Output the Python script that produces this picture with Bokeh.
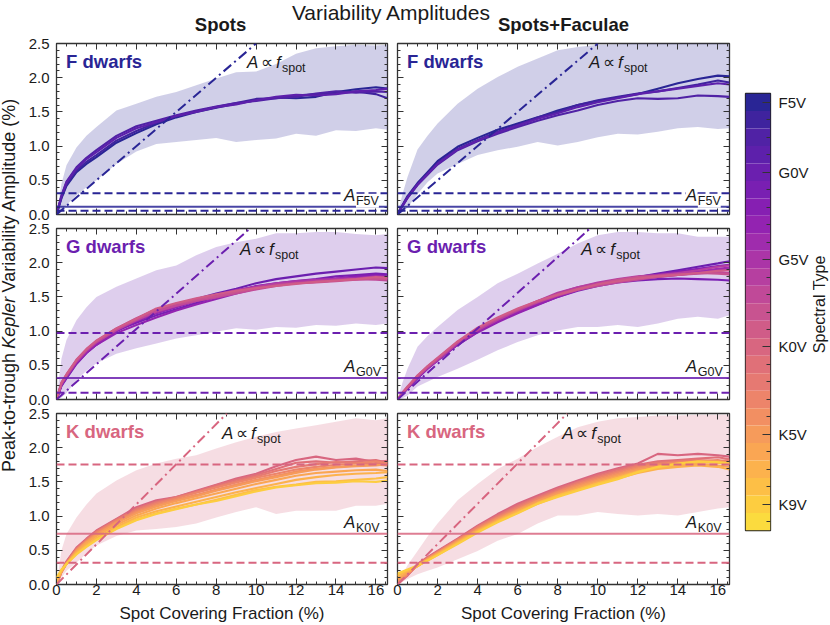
import math
from bokeh.plotting import figure
from bokeh.layouts import row, column
from bokeh.models import (Range1d, LinearAxis, FixedTicker, Label, Span, Slope,
                          PrintfTickFormatter)
from bokeh.palettes import Plasma256
from bokeh.embed import file_html
from bokeh.resources import INLINE

FONT = "Liberation Sans"
INK = "#1a1a1a"

# ---------------------------------------------------------------- data
SPECTRAL_TYPES = (["F5V", "F6V", "F7V", "F8V"] + ["G%dV" % i for i in range(10)]
                  + ["K%dV" % i for i in range(10)] + ["M0V"])
CB_TICK_LABELS = ["F5V", "G0V", "G5V", "K0V", "K5V", "K9V"]

X_MAX = 16.58
X_TICKS = [0, 2, 4, 6, 8, 10, 12, 14, 16]
Y_TICKS = [0.0, 0.5, 1.0, 1.5, 2.0, 2.5]
X_MINOR = [0.5 * i for i in range(34) if i % 4]
Y_MINOR = [0.1 * i for i in range(26) if i % 5]

XS = [0, 0.25, 0.5, 1, 1.5, 2, 3, 4, 5, 6, 7, 8, 9, 10, 11, 12, 13, 14, 15, 16, 16.58]

# ---- F dwarfs, spots
F_SPOTS = {
    "F5V": [0, 0.24, 0.42, 0.62, 0.74, 0.84, 1.05, 1.19, 1.32, 1.42, 1.50, 1.56, 1.62, 1.67, 1.71, 1.70, 1.72, 1.79, 1.83, 1.86, 1.84],
    "F6V": [0, 0.25, 0.44, 0.64, 0.77, 0.87, 1.08, 1.22, 1.34, 1.44, 1.51, 1.57, 1.63, 1.69, 1.70, 1.74, 1.76, 1.77, 1.80, 1.76, 1.70],
    "F7V": [0, 0.28, 0.48, 0.69, 0.83, 0.94, 1.15, 1.29, 1.37, 1.45, 1.52, 1.58, 1.63, 1.66, 1.70, 1.72, 1.77, 1.80, 1.78, 1.80, 1.79],
    "F8V": [0, 0.27, 0.47, 0.67, 0.81, 0.91, 1.12, 1.26, 1.35, 1.44, 1.50, 1.57, 1.61, 1.67, 1.72, 1.75, 1.74, 1.76, 1.80, 1.82, 1.84],
}
F_SPOTS_LO = [0, 0.05, 0.14, 0.28, 0.40, 0.50, 0.74, 0.92, 1.03, 1.06, 1.09, 1.12, 1.06, 1.09, 1.11, 1.18, 1.15, 1.23, 1.22, 1.26, 1.24]
F_SPOTS_HI = [0, 0.45, 0.72, 0.98, 1.15, 1.28, 1.52, 1.62, 1.72, 1.79, 1.89, 1.99, 2.08, 2.09, 2.20, 2.35, 2.43, 2.46, 2.48, 2.47, 2.48]

# ---- F dwarfs, spots + faculae
F_FAC = {
    "F5V": [0, 0.14, 0.27, 0.46, 0.62, 0.78, 0.99, 1.12, 1.24, 1.33, 1.42, 1.52, 1.60, 1.66, 1.71, 1.76, 1.84, 1.92, 1.98, 2.03, 2.02],
    "F6V": [0, 0.13, 0.25, 0.44, 0.60, 0.75, 0.96, 1.09, 1.21, 1.31, 1.42, 1.50, 1.60, 1.67, 1.72, 1.77, 1.80, 1.85, 1.90, 1.96, 1.93],
    "F7V": [0, 0.12, 0.24, 0.43, 0.58, 0.73, 0.94, 1.07, 1.18, 1.28, 1.37, 1.45, 1.52, 1.60, 1.66, 1.70, 1.69, 1.70, 1.74, 1.73, 1.72],
    "F8V": [0, 0.13, 0.25, 0.44, 0.59, 0.74, 0.95, 1.08, 1.20, 1.30, 1.40, 1.48, 1.57, 1.64, 1.70, 1.76, 1.80, 1.84, 1.88, 1.92, 1.90],
}
F_FAC_LO = [0, 0.04, 0.10, 0.30, 0.47, 0.60, 0.74, 0.87, 0.94, 0.99, 1.06, 1.01, 1.06, 1.13, 1.18, 1.17, 1.21, 1.26, 1.28, 1.25, 1.26]
F_FAC_HI = [0, 0.30, 0.55, 0.95, 1.15, 1.33, 1.62, 1.84, 2.01, 2.16, 2.28, 2.40, 2.45, 2.48, 2.49, 2.50, 2.50, 2.50, 2.50, 2.50, 2.50]

# ---- G dwarfs, spots
G_SPOTS = {
    "G0V": [0, 0.20, 0.31, 0.52, 0.68, 0.80, 1.00, 1.15, 1.29, 1.39, 1.47, 1.55, 1.62, 1.70, 1.76, 1.80, 1.84, 1.87, 1.90, 1.93, 1.92],
    "G1V": [0, 0.21, 0.33, 0.54, 0.70, 0.82, 1.01, 1.12, 1.23, 1.32, 1.41, 1.50, 1.58, 1.66, 1.70, 1.73, 1.76, 1.80, 1.82, 1.84, 1.83],
    "G2V": [0, 0.22, 0.34, 0.55, 0.70, 0.83, 1.00, 1.14, 1.26, 1.35, 1.44, 1.52, 1.59, 1.65, 1.68, 1.72, 1.75, 1.77, 1.80, 1.82, 1.80],
    "G3V": [0, 0.21, 0.32, 0.53, 0.68, 0.80, 0.97, 1.09, 1.20, 1.30, 1.39, 1.47, 1.55, 1.62, 1.67, 1.71, 1.74, 1.76, 1.78, 1.79, 1.77],
    "G4V": [0, 0.23, 0.35, 0.56, 0.71, 0.84, 1.02, 1.15, 1.27, 1.36, 1.44, 1.52, 1.58, 1.63, 1.68, 1.72, 1.74, 1.77, 1.78, 1.78, 1.76],
    "G5V": [0, 0.22, 0.34, 0.55, 0.71, 0.83, 1.01, 1.16, 1.28, 1.37, 1.45, 1.53, 1.60, 1.65, 1.70, 1.73, 1.75, 1.76, 1.77, 1.80, 1.79],
    "G6V": [0, 0.24, 0.36, 0.57, 0.72, 0.85, 1.03, 1.18, 1.31, 1.40, 1.47, 1.53, 1.58, 1.64, 1.69, 1.71, 1.73, 1.75, 1.76, 1.78, 1.77],
    "G7V": [0, 0.23, 0.35, 0.56, 0.72, 0.84, 1.02, 1.16, 1.29, 1.37, 1.44, 1.49, 1.55, 1.61, 1.66, 1.70, 1.72, 1.74, 1.76, 1.75, 1.74],
    "G8V": [0, 0.24, 0.36, 0.58, 0.73, 0.86, 1.04, 1.19, 1.32, 1.40, 1.46, 1.51, 1.57, 1.62, 1.67, 1.70, 1.71, 1.73, 1.75, 1.77, 1.76],
    "G9V": [0, 0.25, 0.37, 0.58, 0.74, 0.86, 1.04, 1.18, 1.33, 1.41, 1.48, 1.54, 1.59, 1.63, 1.66, 1.69, 1.72, 1.74, 1.76, 1.79, 1.78],
}
G_SPOTS_LO = [0, 0.03, 0.09, 0.28, 0.42, 0.53, 0.67, 0.75, 0.82, 0.89, 0.94, 0.99, 1.04, 1.02, 1.06, 1.05, 1.09, 1.08, 1.11, 1.09, 1.11]
G_SPOTS_HI = [0, 0.60, 0.87, 1.16, 1.35, 1.50, 1.65, 1.77, 1.89, 1.96, 2.11, 2.23, 2.30, 2.35, 2.43, 2.43, 2.45, 2.45, 2.42, 2.40, 2.42]

# ---- G dwarfs, spots + faculae
G_FAC = {
    "G0V": [0, 0.08, 0.16, 0.31, 0.45, 0.57, 0.80, 0.99, 1.15, 1.28, 1.41, 1.54, 1.63, 1.70, 1.75, 1.79, 1.84, 1.89, 1.94, 1.99, 2.02],
    "G1V": [0, 0.09, 0.17, 0.33, 0.46, 0.58, 0.81, 1.00, 1.15, 1.27, 1.39, 1.50, 1.59, 1.66, 1.71, 1.74, 1.76, 1.77, 1.76, 1.75, 1.74],
    "G2V": [0, 0.09, 0.17, 0.32, 0.46, 0.58, 0.82, 1.01, 1.16, 1.29, 1.40, 1.52, 1.61, 1.69, 1.74, 1.79, 1.83, 1.87, 1.91, 1.95, 1.97],
    "G3V": [0, 0.08, 0.16, 0.32, 0.45, 0.57, 0.80, 0.98, 1.13, 1.26, 1.38, 1.50, 1.60, 1.68, 1.72, 1.76, 1.80, 1.83, 1.86, 1.90, 1.92],
    "G4V": [0, 0.09, 0.17, 0.33, 0.47, 0.59, 0.83, 1.02, 1.17, 1.29, 1.41, 1.52, 1.61, 1.68, 1.74, 1.78, 1.81, 1.84, 1.87, 1.91, 1.93],
    "G5V": [0, 0.10, 0.18, 0.34, 0.47, 0.59, 0.83, 1.02, 1.18, 1.31, 1.43, 1.55, 1.64, 1.70, 1.74, 1.77, 1.79, 1.82, 1.85, 1.88, 1.90],
    "G6V": [0, 0.09, 0.17, 0.33, 0.46, 0.58, 0.82, 1.01, 1.16, 1.30, 1.44, 1.56, 1.64, 1.71, 1.76, 1.80, 1.82, 1.85, 1.89, 1.94, 1.96],
    "G7V": [0, 0.10, 0.18, 0.34, 0.48, 0.60, 0.84, 1.03, 1.18, 1.31, 1.42, 1.52, 1.60, 1.66, 1.71, 1.75, 1.79, 1.82, 1.84, 1.86, 1.85],
    "G8V": [0, 0.10, 0.18, 0.35, 0.48, 0.60, 0.84, 1.04, 1.19, 1.32, 1.44, 1.54, 1.62, 1.69, 1.75, 1.79, 1.81, 1.83, 1.85, 1.84, 1.83],
    "G9V": [0, 0.10, 0.19, 0.35, 0.49, 0.61, 0.85, 1.05, 1.20, 1.33, 1.44, 1.53, 1.61, 1.68, 1.73, 1.77, 1.80, 1.82, 1.85, 1.88, 1.89],
}
G_FAC_LO = [0, 0.02, 0.06, 0.19, 0.26, 0.33, 0.45, 0.58, 0.72, 0.84, 0.94, 1.01, 1.06, 1.06, 1.09, 1.06, 1.11, 1.18, 1.21, 1.18, 1.23]
G_FAC_HI = [0, 0.25, 0.45, 0.77, 0.93, 1.06, 1.31, 1.50, 1.70, 1.84, 1.99, 2.13, 2.28, 2.40, 2.45, 2.45, 2.43, 2.43, 2.38, 2.38, 2.38]

# ---- K dwarfs, spots
K_SPOTS = {
    "K0V": [0, 0.20, 0.34, 0.54, 0.67, 0.79, 0.96, 1.13, 1.23, 1.28, 1.37, 1.46, 1.55, 1.62, 1.73, 1.82, 1.87, 1.82, 1.84, 1.79, 1.81],
    "K1V": [0, 0.19, 0.33, 0.53, 0.66, 0.78, 0.95, 1.11, 1.21, 1.28, 1.36, 1.45, 1.53, 1.60, 1.69, 1.78, 1.80, 1.78, 1.80, 1.82, 1.78],
    "K2V": [0, 0.19, 0.32, 0.52, 0.65, 0.77, 0.94, 1.10, 1.20, 1.27, 1.35, 1.43, 1.51, 1.58, 1.66, 1.72, 1.76, 1.79, 1.78, 1.76, 1.79],
    "K3V": [0, 0.18, 0.31, 0.51, 0.64, 0.76, 0.93, 1.08, 1.18, 1.26, 1.34, 1.42, 1.49, 1.56, 1.62, 1.68, 1.72, 1.75, 1.77, 1.80, 1.77],
    "K4V": [0, 0.18, 0.31, 0.50, 0.63, 0.74, 0.91, 1.06, 1.16, 1.24, 1.31, 1.39, 1.46, 1.53, 1.59, 1.65, 1.69, 1.72, 1.74, 1.75, 1.74],
    "K5V": [0.02, 0.18, 0.30, 0.49, 0.62, 0.73, 0.90, 1.04, 1.14, 1.22, 1.29, 1.37, 1.44, 1.51, 1.57, 1.63, 1.68, 1.71, 1.73, 1.74, 1.76],
    "K6V": [0.04, 0.19, 0.30, 0.48, 0.61, 0.71, 0.87, 1.01, 1.11, 1.19, 1.26, 1.33, 1.40, 1.47, 1.53, 1.59, 1.63, 1.65, 1.67, 1.68, 1.66],
    "K7V": [0.06, 0.20, 0.30, 0.46, 0.58, 0.68, 0.84, 0.98, 1.07, 1.14, 1.21, 1.28, 1.35, 1.41, 1.47, 1.53, 1.57, 1.60, 1.62, 1.63, 1.64],
    "K8V": [0.08, 0.21, 0.30, 0.45, 0.56, 0.66, 0.82, 0.95, 1.04, 1.11, 1.17, 1.24, 1.31, 1.38, 1.43, 1.46, 1.50, 1.51, 1.53, 1.55, 1.57],
    "K9V": [0.10, 0.22, 0.30, 0.44, 0.55, 0.65, 0.81, 0.94, 1.03, 1.10, 1.17, 1.22, 1.29, 1.36, 1.42, 1.45, 1.48, 1.49, 1.51, 1.50, 1.52],
}
K_SPOTS_LO = [0, 0.10, 0.20, 0.32, 0.45, 0.57, 0.71, 0.79, 0.81, 0.84, 0.89, 0.98, 1.06, 1.13, 1.03, 1.08, 1.08, 1.08, 1.15, 1.15, 1.18]
K_SPOTS_HI = [0, 0.50, 0.74, 0.98, 1.17, 1.33, 1.52, 1.67, 1.77, 1.84, 1.89, 1.99, 2.08, 2.16, 2.23, 2.28, 2.33, 2.38, 2.43, 2.40, 2.43]

# ---- K dwarfs, spots + faculae
K_FAC = {
    "K0V": [0, 0.07, 0.13, 0.30, 0.40, 0.49, 0.67, 0.86, 1.03, 1.18, 1.30, 1.42, 1.52, 1.62, 1.70, 1.77, 1.91, 1.89, 1.91, 1.89, 1.87],
    "K1V": [0, 0.07, 0.14, 0.29, 0.39, 0.48, 0.66, 0.85, 1.01, 1.16, 1.28, 1.40, 1.50, 1.60, 1.68, 1.75, 1.80, 1.82, 1.84, 1.86, 1.83],
    "K2V": [0, 0.08, 0.14, 0.29, 0.39, 0.48, 0.66, 0.84, 1.00, 1.14, 1.27, 1.38, 1.49, 1.58, 1.66, 1.74, 1.78, 1.80, 1.82, 1.80, 1.82],
    "K3V": [0.02, 0.09, 0.15, 0.28, 0.38, 0.47, 0.65, 0.83, 0.98, 1.12, 1.25, 1.36, 1.47, 1.56, 1.64, 1.72, 1.76, 1.79, 1.80, 1.82, 1.79],
    "K4V": [0.04, 0.10, 0.16, 0.28, 0.38, 0.46, 0.64, 0.81, 0.97, 1.10, 1.23, 1.35, 1.45, 1.54, 1.62, 1.70, 1.75, 1.78, 1.79, 1.78, 1.77],
    "K5V": [0.07, 0.12, 0.17, 0.27, 0.37, 0.46, 0.63, 0.80, 0.95, 1.09, 1.22, 1.33, 1.43, 1.52, 1.60, 1.68, 1.73, 1.76, 1.78, 1.80, 1.78],
    "K6V": [0.09, 0.13, 0.18, 0.27, 0.36, 0.45, 0.62, 0.79, 0.94, 1.08, 1.20, 1.31, 1.41, 1.50, 1.58, 1.66, 1.71, 1.74, 1.76, 1.74, 1.72],
    "K7V": [0.12, 0.16, 0.20, 0.27, 0.36, 0.44, 0.61, 0.78, 0.93, 1.06, 1.18, 1.29, 1.38, 1.47, 1.55, 1.63, 1.69, 1.72, 1.74, 1.72, 1.68],
    "K8V": [0.14, 0.18, 0.21, 0.27, 0.35, 0.43, 0.60, 0.77, 0.92, 1.05, 1.19, 1.30, 1.39, 1.48, 1.56, 1.65, 1.71, 1.76, 1.79, 1.78, 1.76],
    "K9V": [0.16, 0.19, 0.22, 0.28, 0.35, 0.43, 0.59, 0.76, 0.91, 1.04, 1.18, 1.28, 1.37, 1.46, 1.54, 1.64, 1.72, 1.77, 1.80, 1.79, 1.77],
}
K_FAC_LO = [0, 0.04, 0.08, 0.15, 0.20, 0.25, 0.37, 0.49, 0.64, 0.74, 0.89, 1.01, 1.01, 1.06, 1.03, 1.01, 1.03, 1.01, 1.06, 1.11, 1.13]
K_FAC_HI = [0, 0.15, 0.28, 0.49, 0.70, 0.89, 1.23, 1.47, 1.69, 1.84, 2.01, 2.16, 2.30, 2.38, 2.43, 2.45, 2.47, 2.47, 2.48, 2.48, 2.48]

# reference amplitude levels per class: (upper dashed, solid, lower dashed)
LEVELS = {"F": (0.31, 0.114, 0.055), "G": (0.974, 0.316, 0.10), "K": (1.755, 0.743, 0.318)}
REF_TYPE = {"F": "F5V", "G": "G0V", "K": "K0V"}
# A ∝ f_spot slopes (per %): spots column, faculae column
SLOPES = {"F": (0.25, 0.25), "G": (0.258, 0.26), "K": (0.293, 0.295)}
PROP_LABEL_X = {"F": (9.54, 9.56), "G": (9.19, 9.18), "K": (8.29, 8.23)}
PROP_LABEL_Y = {"F": 2.13, "G": 2.11, "K": 2.12}

COLUMN_TITLES = ["Spots", "Spots+Faculae"]
MAIN_TITLE = "Variability Amplitudes"
X_LABEL = "Spot Covering Fraction (%)"
Y_LABEL_PARTS = ["Peak-to-trough", "Kepler", "Variability Amplitude (%)"]
CB_LABEL = "Spectral Type"


# ---------------------------------------------------------------- colours
def blend(hexc, a=0.88):
    r, g, b = int(hexc[1:3], 16), int(hexc[3:5], 16), int(hexc[5:7], 16)
    mix = [round(a * c + (1 - a) * 255) for c in (r, g, b)]
    return "#%02x%02x%02x" % tuple(mix)


def type_color(st):
    i = SPECTRAL_TYPES.index(st)
    t = i / (len(SPECTRAL_TYPES) - 1) * 0.92
    return blend(Plasma256[int(round(t * 255))])


TICK_COLOR = "#333333"


def mid(size_px):
    """distance from the alphabetic baseline up to the middle of the text box"""
    return 0.3465 * size_px


# ---------------------------------------------------------------- helpers
def labelled_axis(ticks, minor, fmt=None, standoff=4, label=None):
    ax = LinearAxis(ticker=FixedTicker(ticks=ticks, minor_ticks=minor))
    ax.major_tick_in = 6
    ax.major_tick_out = 0
    ax.minor_tick_in = 3
    ax.minor_tick_out = 0
    ax.major_tick_line_color = TICK_COLOR
    ax.minor_tick_line_color = TICK_COLOR
    ax.axis_line_color = None
    if fmt is not None:
        ax.formatter = fmt
    ax.major_label_text_font = FONT
    ax.major_label_text_font_size = "15px"
    ax.major_label_text_color = INK
    ax.major_label_standoff = standoff
    if label:
        ax.axis_label = label
        ax.axis_label_text_font = FONT
        ax.axis_label_text_font_size = "17px"
        ax.axis_label_text_font_style = "normal"
        ax.axis_label_text_color = INK
        ax.axis_label_standoff = 6
    return ax


def tick_only_axes(p, side, ticks, minor):
    """Inward ticks with no labels: two label-free axes (long and short ticks)."""
    for pos, length in ((minor, 3), (ticks, 6)):
        ax = LinearAxis(ticker=FixedTicker(ticks=[], minor_ticks=pos))
        ax.major_tick_in = 0
        ax.major_tick_out = 0
        ax.minor_tick_in = length
        ax.minor_tick_out = 0
        ax.minor_tick_line_color = TICK_COLOR
        ax.major_tick_line_color = None
        ax.axis_line_color = None
        ax.major_label_standoff = 0
        ax.axis_label_standoff = 0
        p.add_layout(ax, side)


def text_label(x, y, text, size, style="normal", color=INK, align="left", dx=0, dy=0,
               angle=0, bg=None):
    return Label(x=x, y=y, x_offset=dx, y_offset=dy, text=text, text_font=FONT,
                 text_font_size="%gpx" % size, text_font_style=style, text_color=color,
                 text_align=align, text_baseline="middle", angle=angle,
                 background_fill_color=bg)


HEADER_H = 34
FRAME_H = 171
FRAME_W = (334, 332)
BORDER_L = (28, 5)
BORDER_R = 5
BORDER_TOP = (9, 7, 7)
BORDER_BOTTOM = (7, 7, 41)


def make_panel(cls, ci, ri, curves, lo, hi):
    mbt, mbb = BORDER_TOP[ri], BORDER_BOTTOM[ri]
    w = BORDER_L[ci] + FRAME_W[ci] + BORDER_R
    h = mbt + FRAME_H + mbb
    p = figure(width=w, height=h, x_range=Range1d(0, X_MAX), y_range=Range1d(0, 2.5),
               toolbar_location=None, output_backend="svg",
               x_axis_location=None, y_axis_location=None,
               min_border_left=BORDER_L[ci], min_border_right=BORDER_R,
               min_border_top=mbt, min_border_bottom=mbb)
    p.xgrid.visible = False
    p.ygrid.visible = False
    p.outline_line_color = "#333333"
    p.outline_line_width = 1.3
    p.background_fill_color = "white"
    p.border_fill_color = "white"

    if ri == 2:
        p.add_layout(labelled_axis(X_TICKS, X_MINOR, standoff=0, label=X_LABEL), "below")
    else:
        tick_only_axes(p, "below", X_TICKS, X_MINOR)
    if ci == 0:
        p.add_layout(labelled_axis(Y_TICKS, Y_MINOR, PrintfTickFormatter(format="%.1f"), standoff=7), "left")
    else:
        tick_only_axes(p, "left", Y_TICKS, Y_MINOR)
    tick_only_axes(p, "above", X_TICKS, X_MINOR)
    tick_only_axes(p, "right", Y_TICKS, Y_MINOR)

    c = type_color(REF_TYPE[cls])
    p.varea(x=XS, y1=lo, y2=hi, fill_color=c, fill_alpha=0.22)
    for st, ys in curves.items():
        p.line(XS, ys, line_color=type_color(st), line_width=2.1)

    hi_l, solid_l, lo_l = LEVELS[cls]
    p.add_layout(Span(location=hi_l, dimension="width", line_color=c, line_width=2, line_dash="8 4"))
    p.add_layout(Span(location=lo_l, dimension="width", line_color=c, line_width=2, line_dash="8 4"))
    p.add_layout(Span(location=solid_l, dimension="width", line_color=c, line_width=2, line_alpha=0.85))
    p.add_layout(Slope(gradient=SLOPES[cls][ci], y_intercept=0, line_color=c,
                       line_width=2, line_dash="10 4 2 4"))

    # class label
    p.add_layout(text_label(0.48, 2.15, "%s dwarfs" % cls, 18.5, "bold", c, dy=mid(18.5)))
    # A ∝ f_spot
    px, py = PROP_LABEL_X[cls][ci], PROP_LABEL_Y[cls]
    for txt, dx, dy, size, style in [("A", 0, 0, 17, "italic"), ("\u221d", 14, 0, 17, "normal"),
                                     ("f", 29, 0, 17, "italic"), ("spot", 35, -4, 12.5, "normal")]:
        p.add_layout(text_label(px, py, txt, size, style, dx=dx, dy=dy + mid(size)))
    # A_type label
    bg = "white" if cls == "F" else None
    ay = solid_l + 0.083
    p.add_layout(text_label(14.4, ay, "A", 17, "italic", dy=mid(17), bg=bg))
    p.add_layout(text_label(14.4, ay, REF_TYPE[cls], 12.5, dx=12, dy=-4 + mid(12.5), bg=bg))
    return p


PANELS = [
    ("F", F_SPOTS, F_SPOTS_LO, F_SPOTS_HI, F_FAC, F_FAC_LO, F_FAC_HI),
    ("G", G_SPOTS, G_SPOTS_LO, G_SPOTS_HI, G_FAC, G_FAC_LO, G_FAC_HI),
    ("K", K_SPOTS, K_SPOTS_LO, K_SPOTS_HI, K_FAC, K_FAC_LO, K_FAC_HI),
]

left_col, right_col = [], []
for ri, (cls, cs, clo, chi, cf, flo, fhi) in enumerate(PANELS):
    left_col.append(make_panel(cls, 0, ri, cs, clo, chi))
    right_col.append(make_panel(cls, 1, ri, cf, flo, fhi))

STACK_H = sum(p.height for p in left_col)
YLAB_W = 25
CBLAB_W = 18
TOTAL_W = 830
CB_W = TOTAL_W - YLAB_W - left_col[0].width - right_col[0].width - CBLAB_W


def bare_figure(w, h, xr, yr):
    f = figure(width=w, height=h, x_range=xr, y_range=yr, toolbar_location=None,
               output_backend="svg", x_axis_location=None, y_axis_location=None,
               min_border_left=0, min_border_right=0, min_border_top=0, min_border_bottom=0)
    f.xgrid.visible = False
    f.ygrid.visible = False
    f.outline_line_color = None
    f.background_fill_color = "white"
    f.border_fill_color = "white"
    return f


# header (page-pixel coordinates, y downward)
header = bare_figure(TOTAL_W, HEADER_H, Range1d(0, TOTAL_W), Range1d(HEADER_H, 0))
header.add_layout(text_label(391, 19.5 - mid(21), MAIN_TITLE, 21, align="center"))
for cx, t in zip((220, 563), COLUMN_TITLES):
    header.add_layout(text_label(cx, 30.5 - mid(18.5), t, 18.5, "bold", align="center"))

# shared y label (page-pixel coordinates, y downward); text reads bottom-to-top
YL_SIZE = 18
ylab = bare_figure(YLAB_W, STACK_H, Range1d(0, YLAB_W), Range1d(HEADER_H + STACK_H, HEADER_H))
YL_X = 14.5 - mid(YL_SIZE)
KEPLER_MID = 344
KEPLER_HALF = 29
GAP = 12
ylab.add_layout(text_label(YL_X, KEPLER_MID + KEPLER_HALF + GAP, Y_LABEL_PARTS[0], YL_SIZE,
                           align="right", angle=math.pi / 2))
ylab.add_layout(text_label(YL_X, KEPLER_MID, Y_LABEL_PARTS[1], YL_SIZE, "italic",
                           align="center", angle=math.pi / 2))
ylab.add_layout(text_label(YL_X, KEPLER_MID - KEPLER_HALF - GAP, Y_LABEL_PARTS[2], YL_SIZE,
                           align="left", angle=math.pi / 2))

# colour bar
n = len(SPECTRAL_TYPES)
CB_TOP, CB_LEN = 93 - HEADER_H, 437
cb = figure(width=CB_W, height=STACK_H, x_range=Range1d(0, 1), y_range=Range1d(n - 0.5, -0.5),
            toolbar_location=None, output_backend="svg", x_axis_location=None,
            y_axis_location="right", min_border_left=11, min_border_right=CB_W - 11 - 25,
            min_border_top=CB_TOP, min_border_bottom=STACK_H - CB_TOP - CB_LEN)
cb.xgrid.visible = False
cb.ygrid.visible = False
cb.outline_line_color = "#222222"
cb.outline_line_width = 1.3
cb.border_fill_color = "white"
idx = list(range(n))
cb.quad(left=0, right=1, bottom=[i + 0.5 for i in idx], top=[i - 0.5 for i in idx],
        fill_color=[type_color(s) for s in SPECTRAL_TYPES], line_color=None)
ax = cb.yaxis[0]
ax.ticker = FixedTicker(ticks=[SPECTRAL_TYPES.index(s) for s in CB_TICK_LABELS], minor_ticks=idx)
ax.major_label_overrides = {SPECTRAL_TYPES.index(s): s for s in CB_TICK_LABELS}
ax.major_tick_in = 8
ax.major_tick_out = 0
ax.minor_tick_in = 4
ax.minor_tick_out = 0
ax.major_tick_line_color = TICK_COLOR
ax.minor_tick_line_color = TICK_COLOR
ax.axis_line_color = None
ax.major_label_text_font = FONT
ax.major_label_text_font_size = "15px"
ax.major_label_text_color = INK
ax.major_label_standoff = 8

# colour-bar label (page-pixel coordinates, y downward)
cblab = bare_figure(CBLAB_W, STACK_H, Range1d(TOTAL_W - CBLAB_W, TOTAL_W),
                    Range1d(HEADER_H + STACK_H, HEADER_H))
cblab.add_layout(text_label(825 - mid(16), 319, CB_LABEL, 16, align="center", angle=math.pi / 2))

layout = column(header, row(ylab, column(*left_col), column(*right_col), cb, cblab))
open("out.html", "w").write(file_html(layout, INLINE))
